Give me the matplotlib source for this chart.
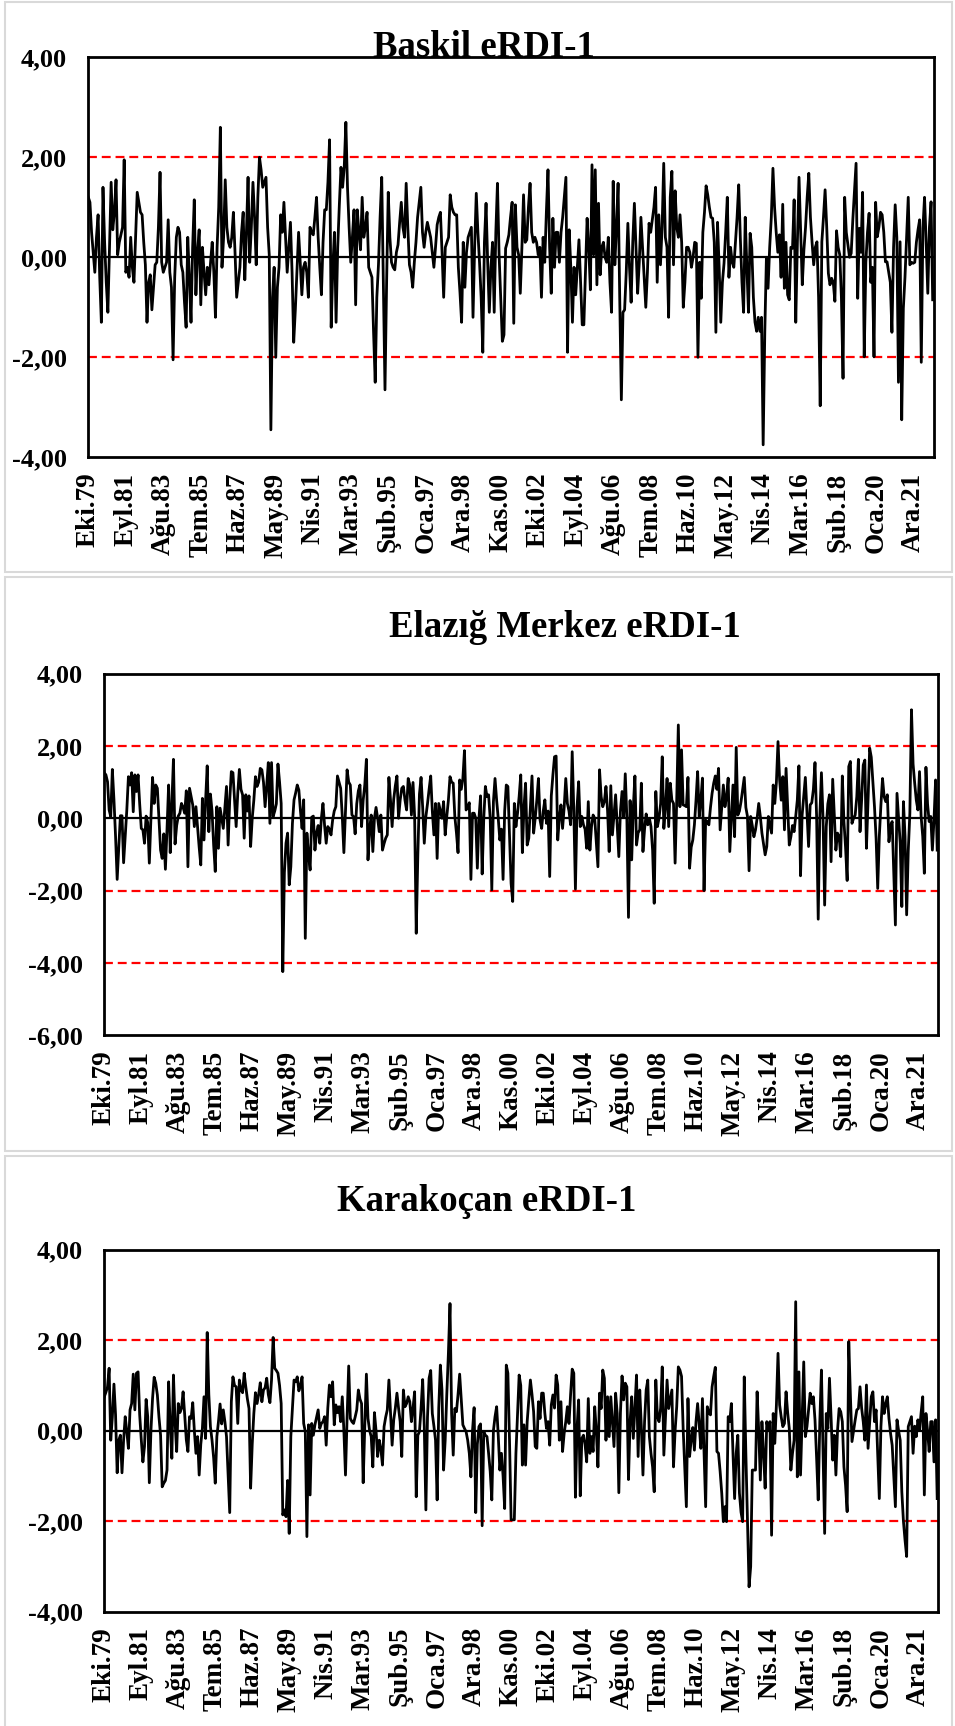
import numpy as np
import matplotlib
matplotlib.use("Agg")
import matplotlib.pyplot as plt
from matplotlib.patches import Rectangle

plt.rcParams['font.family'] = ['Liberation Serif', 'DejaVu Serif']
plt.rcParams['font.weight'] = 'bold'

W, H = 955, 1726

# x labels every 23 months, starting Oct 1979
month_labels = ['Eki.79', 'Eyl.81', 'Ağu.83', 'Tem.85', 'Haz.87', 'May.89', 'Nis.91',
                'Mar.93', 'Şub.95', 'Oca.97', 'Ara.98', 'Kas.00', 'Eki.02', 'Eyl.04',
                'Ağu.06', 'Tem.08', 'Haz.10', 'May.12', 'Nis.14', 'Mar.16', 'Şub.18',
                'Oca.20', 'Ara.21']
label_step = 23

# monthly eRDI-1 values, Oct 1979 - Dec 2022
baskil = [
    1.2, 1.1, 0.5, 0.1, -0.3, 0.4, 0.85, -0.4, -1.3, 1.4,
    0.3, -0.5, -1.1, 0.2, 1.5, 0.55, 0.9, 1.55, 0.05, 0.3,
    0.45, 0.6, 1.95, -0.3, -0.2, -0.4, 0.4, -0.2, -0.5, 0.4,
    1.3, 1.1, 0.9, 0.85, 0.3, -0.15, -1.3, -0.5, -0.35, -1.05,
    -0.6, -0.15, -0.1, 0.6, 1.7, -0.1, -0.3, -0.2, -0.1, 0.75,
    -0.3, -0.6, -2.05, -0.4, 0.4, 0.6, 0.5, -0.15, -0.3, -0.9,
    -1.4, 0.4, -0.4, -1.3, 0.2, 1.15, -0.75, 0.1, 0.55, -0.95,
    0.2, -0.3, -0.75, -0.2, -0.55, -0.1, 0.3, -0.3, -1.2, 0.2,
    1.0, 2.6, -0.2, 0.4, 1.55, 0.6, 0.3, 0.2, 0.4, 0.9,
    0.1, -0.8, -0.5, -0.2, 0.5, 0.9, -0.45, 0.5, 1.6, -0.1,
    0.6, 1.5, 0.8, -0.15, 1.2, 2.0, 1.75, 1.4, 1.5, 1.6,
    0.6, 0.05, -3.45, -0.8, -0.2, -2.0, -0.6, -0.2, 0.85, 0.5,
    1.1, 0.4, -0.3, 0.2, 0.7, -0.3, -1.7, -1.05, -0.3, 0.5,
    -0.1, -0.75, -0.2, -0.1, -0.3, -0.8, 0.6, 0.5, 0.45, 0.8,
    1.2, 0.4, -0.2, -0.75, 0.3, 0.95, 0.95, 1.5, 2.35, -1.4,
    -0.2, 0.5, -1.3, 0.2, 1.05, 1.8, 1.4, 1.8, 2.7, 1.4,
    0.6, -0.1, 0.4, 0.95, -0.95, 0.95, 0.5, 0.15, 1.2, 0.4,
    0.6, 0.9, -0.2, -0.3, -0.4, -1.5, -2.5, -0.8, -0.15, 0.8,
    1.6, -0.5, -2.65, -0.5, 1.3, 0.4, -0.1, -0.2, -0.25, 0.1,
    0.25, 0.7, 1.1, 0.6, 0.4, 1.48, 0.6, -0.15, -0.3, -0.6,
    -0.1, 0.3, 0.8, 1.1, 1.4, 0.5, 0.2, 0.5, 0.7, 0.55,
    0.4, 0.1, -0.2, 0.2, 0.65, 0.8, 0.9, 0.1, -0.8, 0.2,
    0.3, 0.4, 1.25, 1.0, 0.9, 0.85, 0.85, -0.2, -0.7, -1.3,
    0.3, -0.6, 0.1, 0.4, 0.5, 0.6, -1.2, 0.2, 1.28, 0.5,
    -0.1, -0.8, -1.9, 0.3, 1.08, -0.1, -1.1, -0.2, 0.3, -1.1,
    0.5, 1.48, 0.05, -0.8, -1.68, -1.55, 0.18, 0.3, 0.45, 0.8,
    1.1, -1.32, 1.05, 0.2, 0.05, -0.72, 0.2, 1.25, 0.3, 0.35,
    1.0, 1.48, 0.5, 0.3, 0.4, 0.3, 0.05, 0.2, -0.8, 0.4,
    -0.1, 0.9, 1.75, 0.2, -0.72, 0.78, -0.2, 0.5, 0.5, -0.1,
    0.5, 0.8, 1.2, 1.6, -1.9, 0.55, -0.2, -1.3, -0.2, -0.75,
    -0.2, 0.35, -0.5, -1.35, -1.35, -0.3, 0.78, 0.2, -0.65, 1.85,
    0.05, 1.75, -0.55, 1.08, -0.35, 0.2, 0.3, 0.0, -0.1, 0.4,
    -0.5, -1.1, 1.52, -0.15, 0.6, 1.48, -0.8, -2.85, -1.1, -1.05,
    -0.3, 0.68, -0.2, -0.9, 0.3, 1.08, 0.2, -0.72, -0.1, 0.8,
    0.2, -0.4, -1.0, -0.3, 0.68, 0.5, 0.75, 1.0, 1.4, -0.5,
    0.85, -0.15, 0.6, 1.88, 0.4, 0.2, -1.2, 1.2, 1.72, -0.15,
    1.33, 0.6, 0.4, 0.85, 0.3, -1.0, -0.5, 0.2, 0.2, 0.1,
    -0.2, 0.0, 0.3, 0.28, -2.0, -0.1, -0.82, 0.5, 0.9, 1.43,
    1.25, 1.0, 0.8, 0.78, 0.3, -1.5, 0.7, -0.2, -1.3, -0.5,
    -0.12, 0.5, 1.2, -0.4, 0.2, -0.1, -0.2, 0.3, 0.8, 1.45,
    0.38, -0.5, -1.1, 0.8, -0.2, -1.1, 0.48, 0.2, -0.8, -1.3,
    -1.48, -1.2, -1.48, -1.2, -3.75, -1.5, 0.0, -0.62, 0.2, 0.8,
    1.78, 1.0, 0.5, 0.1, 0.45, -0.4, 1.06, -0.62, 0.3, -0.75,
    -0.85, 0.2, 0.18, 1.15, -1.3, 0.3, 1.6, 0.5, -0.55, 0.15,
    0.6, 1.2, 1.68, 0.8, 0.3, -0.15, 0.2, 0.31, -0.8, -2.97,
    0.31, 0.8, 1.35, 0.6, -0.32, -0.55, -0.42, -0.5, -0.88, 0.53,
    0.2, 0.05, -0.8, -2.42, 1.2, 0.5, 0.25, 0.0, 0.08, 0.75,
    1.3, 1.88, -0.82, 0.58, 0.1, 1.3, -1.99, -0.1, 0.5, 0.88,
    -0.5, -0.2, -1.99, 1.1, 0.41, 0.6, 0.9, 0.85, 0.5, -0.09,
    -0.09, -0.3, -0.5, -1.5, 0.2, 1.05, 0.4, -2.5, 0.31, -3.25,
    -1.02, -0.4, 0.4, 1.2, -0.15, -0.1, -0.12, -0.1, 0.3, 0.55,
    0.75, -2.1, 0.58, 1.2, 0.3, -0.72, 0.6, 1.11, -0.85,
]

elazig = [
    1.26, 1.2, 1.01, 0.23, 0.05, 1.35, 0.51, -0.5, -1.69, -0.8,
    0.07, 0.07, -1.23, -0.5, 0.23, 1.15, 0.92, 1.26, 0.18, 1.2,
    0.74, 1.2, 0.4, -0.28, -0.32, -0.69, 0.06, -0.12, -1.24, 0.0,
    1.13, 0.41, 0.92, 0.83, 0.0, -0.88, -1.11, -0.43, -1.41, -0.3,
    0.92, -0.95, 0.4, 1.63, -0.71, -0.2, 0.06, 0.14, 0.41, 0.3,
    0.14, 0.76, -1.34, 0.83, 0.6, 0.37, -0.23, 0.32, -0.23, -0.8,
    -1.29, 0.55, -0.6, 0.5, 1.45, -0.37, 0.67, 0.2, -0.74, -1.47,
    0.32, -0.83, 0.28, 0.0, -0.28, 0.3, 0.88, -0.74, 0.5, 1.29,
    1.26, 0.5, -0.23, 0.69, 1.35, 0.8, 0.65, -0.55, 0.65, 0.2,
    0.62, -0.78, 0.0, 0.5, 1.15, 0.88, 1.0, 1.38, 1.34, 1.0,
    0.32, 0.9, 1.54, -0.14, 1.54, 0.05, 0.2, 0.4, 1.5, 1.0,
    0.41, -4.24, -1.5, -0.69, -0.41, -1.84, -1.34, -0.14, 0.51, 0.7,
    0.92, 0.78, 0.2, -0.28, 0.51, -3.32, -0.41, -1.0, -1.43, 0.03,
    0.06, -0.88, -0.4, -0.2, -0.69, 0.0, 0.41, -0.2, -0.69, -0.23,
    -0.3, -0.46, -0.05, 0.2, 0.32, 1.17, 1.0, 0.83, 0.05, -0.95,
    0.2, 1.34, 1.0, 0.92, 0.09, 0.05, -0.43, 0.4, 0.76, 0.92,
    -0.23, 0.5, 0.92, 1.63, -1.15, -0.3, 0.09, -0.92, 0.0, 0.3,
    0.0, -0.37, 0.09, -0.88, -0.7, -0.55, -0.46, 1.13, 0.5, -0.23,
    0.53, 0.9, 1.17, 0.0, 0.5, 0.83, 0.88, 0.5, 0.23, 1.1,
    0.92, 0.09, 0.99, 0.05, -3.18, -1.0, 0.67, 1.13, 0.3, -0.69,
    0.05, 0.4, 0.8, 1.17, 0.2, -0.46, 0.41, -1.11, 0.41, 0.2,
    0.0, 0.46, -0.46, 0.05, 0.5, 1.15, 1.0, 0.97, 0.05, -0.4,
    -0.95, 1.06, 0.8, 1.1, 1.87, 0.23, 0.3, 0.43, -1.69, 0.14,
    0.14, 0.0, -1.38, 0.0, 0.62, -1.54, 0.0, 0.88, 0.6, 0.65,
    0.0, -1.98, 0.46, 1.1, 0.5, 0.0, -0.6, -0.3, -1.69, 0.2,
    0.92, 0.88, -0.5, -1.8, -2.3, 0.41, -0.23, 0.14, 0.6, 1.2,
    -0.95, 0.3, 0.97, -0.74, -0.55, 0.3, 1.17, -0.41, 0.0, 0.5,
    1.1, -0.05, -0.28, 0.2, 0.51, -0.14, 0.2, -1.61, 0.62, 1.2,
    1.7, 1.72, -0.6, 0.0, 0.37, -0.28, 0.3, 1.1, 0.41, 0.2,
    -0.18, 1.84, 0.2, -1.96, 0.3, 1.01, -0.23, 0.05, -0.18, -0.3,
    -0.83, 0.46, -0.88, -0.23, 0.09, 0.0, -0.69, -1.34, 1.34, 0.6,
    0.32, 0.46, 0.88, 0.2, -0.92, 0.9, -0.46, 0.1, 0.65, -0.2,
    -1.06, 0.2, 0.74, 0.05, 1.23, 0.0, -2.74, 0.49, -1.15, 0.3,
    1.17, -0.74, -0.4, -0.32, 0.97, -0.92, -0.3, 0.12, -0.18, 0.0,
    -0.23, -0.88, -2.35, 0.74, -0.23, 0.0, 0.41, 1.7, -0.28, 0.3,
    1.1, -0.23, 0.97, 0.5, 0.41, -1.24, 0.5, 2.58, 0.32, 1.89,
    0.37, 0.35, 0.32, 1.13, -1.38, -0.8, -0.6, -0.18, 0.5, 1.29,
    0.05, 0.5, 1.11, -2.0, -0.05, -0.1, -0.18, 0.3, 0.69, 0.97,
    1.17, 0.8, 1.38, -0.32, 0.3, 0.92, 0.32, 0.6, 1.11, -0.92,
    0.0, 0.92, -0.51, 1.96, 0.09, 0.2, 0.46, 0.8, 1.13, 0.3,
    0.05, -1.45, 0.05, -0.2, -0.51, -0.32, 0.0, 0.41, 0.05, -0.41,
    -0.7, -1.01, -0.78, 0.05, -0.2, -0.41, 0.92, 0.41, 1.0, 2.12,
    1.06, 0.5, 1.15, -0.32, 1.38, 0.3, -0.74, -0.51, -0.2, -0.37,
    0.05, 0.5, 1.45, -1.59, 0.09, 0.6, 1.13, 0.2, -0.78, 0.37,
    0.43, 0.8, 1.54, 0.05, -2.79, 0.05, 1.26, 0.0, -2.4, -0.23,
    0.4, 0.65, -1.2, 1.08, 0.1, -0.88, -0.41, -0.5, -1.06, 1.17,
    -0.09, -0.8, -1.72, 1.43, 1.57, -0.14, 0.0, 0.09, 0.6, 1.63,
    -0.37, 0.5, 1.47, 1.61, -0.83, 0.5, 1.94, 1.69, 1.0, 0.32,
    -0.55, -1.94, -0.5, 0.37, 1.1, 0.6, 0.46, 0.65, -0.65, -0.2,
    -0.09, -1.5, -2.95, 0.69, 0.0, -0.69, -2.44, 0.46, -0.5, -2.67,
    -0.9, 0.14, 3.0, 1.5, 0.97, 0.5, 0.23, 1.29, 0.05, -0.5,
    -1.52, 1.41, 0.4, -0.09, 0.05, -0.88, -0.05, 1.06, -0.88,
]

karakocan = [
    0.75, 0.85, 0.97, 1.38, -0.21, 0.3, 1.03, 0.35, -0.93, -0.21,
    -0.1, -0.93, -0.21, 0.31, -0.02, -0.39, 0.46, 0.6, 1.25, 0.46,
    1.27, 1.3, 0.35, -0.2, -0.69, -0.35, 0.69, 0.31, -1.15, 0.0,
    0.71, 1.18, 1.05, 0.79, 0.3, -0.1, -1.24, -1.16, -1.1, -0.87,
    1.08, 0.09, -0.61, 1.23, 0.2, -0.46, 0.6, 0.4, 0.49, 0.86,
    0.35, -0.2, -0.46, 0.31, 0.27, 0.62, 0.0, -0.5, -0.13, -0.98,
    -0.3, 0.05, 0.75, -0.17, 2.17, 0.8, 0.09, -0.21, -0.6, -1.16,
    -0.13, 0.2, 0.59, 0.15, 0.46, 0.2, -0.13, -1.0, -1.81, 0.64,
    1.19, 1.0, 0.97, 0.16, 1.12, 0.9, 0.84, 1.27, 0.97, 0.7,
    0.49, -1.27, -0.3, 0.38, 0.84, 0.6, 0.8, 1.06, 0.64, 0.9,
    0.95, 1.16, 0.8, 0.62, 1.12, 2.06, 1.38, 1.33, 1.27, 1.0,
    0.6, -1.86, -1.75, -1.9, -1.1, -2.27, -0.13, 0.49, 1.12, 1.08,
    1.19, 0.88, 1.0, 1.19, 0.16, -0.02, -2.34, 0.13, -1.42, 0.16,
    -0.1, 0.13, 0.3, 0.46, 0.05, 0.16, 0.2, 0.31, -0.32, 0.5,
    1.01, 0.75, 1.08, 0.13, 0.57, 0.4, 0.53, 0.2, 0.75, 0.0,
    -0.98, 0.3, 1.43, 0.27, 0.2, 0.16, 0.3, 0.46, 0.9, 0.7,
    0.6, -1.15, 0.1, 1.25, 0.27, 0.0, -0.13, -0.8, 0.4, 0.0,
    -0.57, -0.21, -0.4, -0.76, 0.09, 0.3, 0.46, 1.12, 0.4, -0.32,
    0.24, 0.5, 0.83, 0.5, 0.2, -0.57, 0.9, 0.53, 0.6, 0.75,
    0.64, 0.2, 0.5, 0.86, -1.46, -0.1, -0.02, 0.5, 1.13, 0.09,
    -1.75, 0.3, 1.16, 1.33, 0.38, 0.1, -0.21, -1.53, 0.5, 1.45,
    0.9, -0.87, -0.21, 0.8, 1.71, 2.81, 0.38, -0.54, 0.49, 0.42,
    0.8, 1.25, 0.68, 0.13, 0.05, -0.02, -0.21, -0.5, -1.02, 0.0,
    0.51, -1.81, -0.3, 0.09, 0.15, -2.1, -0.02, -0.1, -0.13, -0.5,
    -0.9, -1.53, 0.0, 0.31, 0.53, -0.1, -0.87, -0.5, -1.0, -1.72,
    1.45, 1.27, -0.2, -1.97, -1.97, -1.97, -0.5, 0.38, 1.23, 1.0,
    -0.76, 0.13, -0.76, 0.2, 0.68, 1.12, 0.8, 0.42, -0.35, -0.39,
    0.64, 0.27, 0.83, 0.83, 0.38, 0.05, 0.2, -0.32, 0.57, 0.79,
    0.5, 1.23, 1.01, -0.21, 0.64, -0.46, -0.06, 0.2, 0.53, 0.16,
    0.8, 1.36, 1.27, -1.47, 0.05, 0.68, -1.44, -0.17, -0.1, -0.3,
    -0.69, 0.71, -0.5, -0.13, -0.46, 0.53, 0.0, -0.8, 0.83, 0.49,
    1.34, 1.16, -0.21, 0.75, -0.13, 0.75, 0.2, -0.35, 0.83, 0.38,
    -1.37, 0.4, 1.21, 0.68, 1.05, 0.97, -1.08, 0.2, 0.75, -0.17,
    0.5, 1.23, -0.57, 0.9, 0.09, -0.98, 0.2, 0.9, 1.12, -0.13,
    -0.5, -0.8, -1.35, 1.12, 0.31, 0.2, 0.5, 1.41, -0.54, 0.3,
    1.12, 0.49, 0.7, 0.9, -0.8, 0.0, 0.53, 1.41, 1.34, 1.2,
    0.05, -0.8, -1.68, 0.71, -0.57, -0.2, 0.07, -0.43, 0.2, 0.6,
    0.13, -0.39, 0.71, -0.5, -1.68, 0.53, 0.4, 0.35, 0.97, 1.2,
    1.4, -0.46, -0.5, -0.9, -1.38, -2.01, -1.68, -2.01, 0.31, 0.2,
    0.6, -0.5, -1.5, -0.5, -0.1, -1.38, -1.8, -2.01, 1.19, -0.5,
    -1.97, -3.45, -3.0, -0.87, -0.87, -0.87, 0.86, 0.0, -1.09, 0.2,
    -0.5, -1.27, 0.2, 0.0, 0.2, -2.31, 0.38, -0.28, 0.57, 1.71,
    0.57, 0.3, 0.09, 0.16, 0.86, 0.4, 0.05, -0.87, -0.5, -0.21,
    2.85, -1.02, 1.3, -0.98, 0.3, 1.52, -0.13, 0.09, 0.46, 0.83,
    0.6, 0.75, 0.24, -0.6, -1.53, 0.2, 1.34, -0.5, -2.27, 0.38,
    0.05, 1.16, 0.3, -0.65, -0.1, -0.98, 0.0, 0.49, 0.42, 0.2,
    -0.8, -1.2, -1.79, 1.97, 0.8, -0.24, 0.0, 0.24, 0.46, 0.49,
    0.97, 0.5, 0.2, -0.21, 1.01, -0.39, 0.2, 0.75, 0.86, 0.2,
    0.46, -0.5, -1.5, 0.09, 0.75, 0.38, 0.6, 0.75, 0.27, -0.06,
    -0.32, -1.0, -1.68, 0.24, 0.0, -0.21, -1.35, -2.0, -2.42, -2.78,
    0.09, 0.2, 0.31, -0.5, 0.1, -0.13, 0.24, 0.01, 0.4, 0.75,
    -1.42, 0.38, 0.0, -0.46, 0.2, 0.2, -0.69, 0.24, -1.5,
]

titles = ['Baskil eRDI-1', 'Elazığ Merkez eRDI-1', 'Karakoçan eRDI-1']
series = [baskil, elazig, karakocan]
y_ranges = [(-4, 4), (-6, 4), (-4, 4)]
red_levels = [[2, -2], [2, -2, -4], [2, -2]]

# layout in pixels: (left, top, right, bottom)
plot_boxes = [(87.5, 57.3, 933.5, 457.3),
              (103.5, 673.6, 938, 1035.3),
              (103.5, 1249.7, 938, 1611.7)]
frame_boxes = [(5, 2, 952, 572), (5, 577, 952, 1151), (5, 1156, 952, 1730)]
title_pos = [(484, 57), (565, 637), (487, 1211)]


def fig_rect(l, t, r, b):
    return [l / W, 1 - b / H, (r - l) / W, (b - t) / H]


def fmt(v):
    return f"{v:.2f}".replace('.', ',')


fig = plt.figure(figsize=(W / 100, H / 100), dpi=100)

for fb in frame_boxes:
    l, t, r, b = fb
    fig.patches.append(Rectangle((l / W, 1 - b / H), (r - l) / W, (b - t) / H,
                                 transform=fig.transFigure, fill=False,
                                 ec='#d9d9d9', lw=1.5))

for i in range(3):
    ax = fig.add_axes(fig_rect(*plot_boxes[i]))
    vals = series[i]
    x = np.arange(len(vals))
    lo, hi = y_ranges[i]

    for lev in red_levels[i]:
        ax.axhline(lev, color='#ff0000', lw=1.6, dashes=(4.0, 2.2), zorder=1)
    ax.axhline(0, color='black', lw=1.6, zorder=2)
    ax.plot(x, vals, color='black', lw=2.0, zorder=3)

    ax.set_xlim(-0.5, len(vals) - 0.5)
    ax.set_ylim(lo, hi)

    yt = np.arange(lo, hi + 1, 2)
    ax.set_yticks(yt)
    ax.set_yticklabels([fmt(v) for v in yt], fontsize=19, fontweight='bold')

    xt = np.arange(len(month_labels)) * label_step
    ax.set_xticks(xt)
    ax.set_xticklabels(month_labels, rotation=90, fontsize=19.5, fontweight='bold',
                       va='top', ha='center')

    ax.tick_params(axis='both', length=0)
    ax.tick_params(axis='y', pad=15)
    ax.tick_params(axis='x', pad=11)
    for sp in ax.spines.values():
        sp.set_linewidth(2.0)
        sp.set_color('black')

    tx, ty = title_pos[i]
    fig.text(tx / W, 1 - ty / H, titles[i], ha='center', va='baseline',
             fontsize=26.5, fontweight='bold', zorder=5)

fig.savefig('out.png', dpi=100, facecolor='white')
